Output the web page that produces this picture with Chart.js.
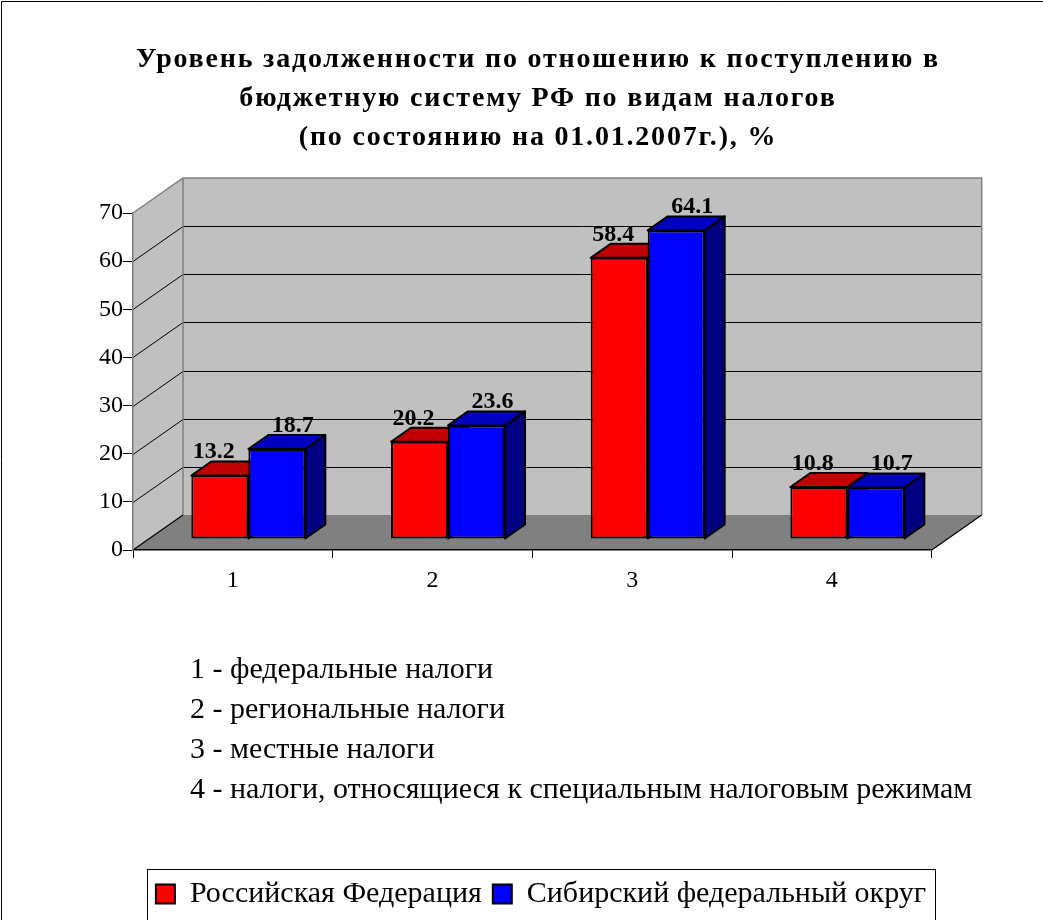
<!DOCTYPE html>
<html>
<head>
<meta charset="utf-8">
<script src="https://cdn.jsdelivr.net/npm/chart.js@4.4.1/dist/chart.umd.min.js"></script>
<style>
    html, body { margin: 0; padding: 0; background: #fff; }
    canvas { display: block; }
</style>
</head>
<body>
<canvas id="tax-debt-chart" width="1043" height="920"></canvas>
<script>
const categories = ['1', '2', '3', '4'];
const seriesNames = ['Российская Федерация', 'Сибирский федеральный округ'];
const russiaValues = [13.2, 20.2, 58.4, 10.8];
const siberiaValues = [18.7, 23.6, 64.1, 10.7];
const yTickValues = [0, 10, 20, 30, 40, 50, 60, 70];
const titleLines = [
    'Уровень задолженности по отношению к поступлению в',
    'бюджетную систему РФ по видам налогов',
    '(по состоянию на 01.01.2007г.), %'
];
const categoryNotes = [
    '1 - федеральные налоги',
    '2 - региональные налоги',
    '3 - местные налоги',
    '4 - налоги, относящиеся к специальным налоговым режимам'
];

const SERIF = '"Liberation Serif", "Times New Roman", serif';

// 3D look: back wall offset and bar depth
const WALL_DX = 50, WALL_DY = 35;
const BAR_SHIFT_X = 15.5, BAR_SHIFT_Y = 11;
const BAR_DX = 20, BAR_DY = 14;

const topColors = ['#c00000', '#0000c0'];
const sideColors = ['#800000', '#000080'];
const labelOffsets = [-6, 16];

function poly(ctx, pts, fill, stroke, lw) {
    ctx.beginPath();
    ctx.moveTo(pts[0][0], pts[0][1]);
    for (let i = 1; i < pts.length; i++) ctx.lineTo(pts[i][0], pts[i][1]);
    ctx.closePath();
    if (fill) { ctx.fillStyle = fill; ctx.fill(); }
    if (stroke) { ctx.strokeStyle = stroke; ctx.lineWidth = lw || 1; ctx.stroke(); }
}

// title (drawn here for the letter spacing), walls, floor and gridlines
const wallsPlugin = {
    id: 'walls3d',
    beforeDraw(chart) {
        const { ctx, chartArea: a, scales: { y } } = chart;
        ctx.save();
        ctx.font = 'bold 28px ' + SERIF;
        ctx.letterSpacing = '1.8px';
        ctx.fillStyle = '#000';
        ctx.textAlign = 'center';
        ctx.textBaseline = 'alphabetic';
        titleLines.forEach((line, i) => ctx.fillText(line, 538, 67 + i * 39));
        ctx.letterSpacing = '0px';

        // side wall
        poly(ctx, [[a.left, a.top], [a.left + WALL_DX, a.top - WALL_DY], [a.left + WALL_DX, a.bottom - WALL_DY], [a.left, a.bottom]], '#c0c0c0');
        // back wall
        poly(ctx, [[a.left + WALL_DX, a.top - WALL_DY], [a.right + WALL_DX, a.top - WALL_DY], [a.right + WALL_DX, a.bottom - WALL_DY], [a.left + WALL_DX, a.bottom - WALL_DY]], '#c0c0c0');
        // gridlines
        ctx.strokeStyle = '#000';
        ctx.lineWidth = 1;
        yTickValues.forEach(v => {
            if (v === y.min || v === y.max) return;
            const py = Math.round(y.getPixelForValue(v)) + 0.5;
            ctx.beginPath();
            ctx.moveTo(a.left, py);
            ctx.lineTo(a.left + WALL_DX, py - WALL_DY);
            ctx.lineTo(a.right + WALL_DX, py - WALL_DY);
            ctx.stroke();
        });
        // wall outlines
        ctx.strokeStyle = '#808080';
        ctx.lineWidth = 1.5;
        ctx.beginPath();
        ctx.moveTo(a.left, a.top);
        ctx.lineTo(a.left + WALL_DX, a.top - WALL_DY);
        ctx.lineTo(a.right + WALL_DX, a.top - WALL_DY);
        ctx.lineTo(a.right + WALL_DX, a.bottom - WALL_DY);
        ctx.moveTo(a.left + WALL_DX, a.top - WALL_DY);
        ctx.lineTo(a.left + WALL_DX, a.bottom - WALL_DY);
        ctx.stroke();
        // floor
        poly(ctx, [[a.left, a.bottom], [a.right, a.bottom], [a.right + WALL_DX, a.bottom - WALL_DY], [a.left + WALL_DX, a.bottom - WALL_DY]], '#808080');
        ctx.strokeStyle = '#000';
        ctx.lineWidth = 1.2;
        ctx.beginPath();
        ctx.moveTo(a.right, a.bottom);
        ctx.lineTo(a.right + WALL_DX, a.bottom - WALL_DY);
        ctx.moveTo(a.left, a.bottom);
        ctx.lineTo(a.left + WALL_DX, a.bottom - WALL_DY);
        ctx.stroke();
        ctx.restore();
    }
};

// bars are pushed into the middle of the depth; each cluster is painted
// left to right (side, top, then the library's own front face)
const barsPlugin = {
    id: 'bars3d',
    beforeDatasetDraw() {
        return false;
    },
    afterDatasetsDraw(chart) {
        const ctx = chart.ctx;
        const metas = chart.data.datasets.map((ds, i) => chart.getDatasetMeta(i));
        ctx.save();
        ctx.translate(BAR_SHIFT_X, -BAR_SHIFT_Y);
        ctx.lineJoin = 'round';
        categories.forEach((c, j) => {
            metas.forEach((meta, i) => {
                const bar = meta.data[j];
                const l = bar.x - bar.width / 2, r = bar.x + bar.width / 2;
                const t = bar.y, b = bar.base;
                poly(ctx, [[r, t], [r + BAR_DX, t - BAR_DY], [r + BAR_DX, b - BAR_DY], [r, b]], sideColors[i], '#000', 2);
                poly(ctx, [[l, t], [r, t], [r + BAR_DX, t - BAR_DY], [l + BAR_DX, t - BAR_DY]], topColors[i], '#000', 2);
                bar.draw(ctx);
            });
        });
        ctx.restore();
    }
};

const labelsPlugin = {
    id: 'valueLabels',
    afterDatasetsDraw(chart) {
        const ctx = chart.ctx;
        ctx.save();
        ctx.font = 'bold 24px ' + SERIF;
        ctx.fillStyle = '#000';
        ctx.textAlign = 'center';
        ctx.textBaseline = 'alphabetic';
        chart.data.datasets.forEach((ds, i) => {
            chart.getDatasetMeta(i).data.forEach((bar, j) => {
                const x = bar.x + BAR_SHIFT_X + labelOffsets[i];
                const yy = bar.y - BAR_SHIFT_Y - BAR_DY - 3;
                ctx.fillText(ds.data[j].toFixed(1), x, yy);
            });
        });
        ctx.restore();
    }
};

const notesPlugin = {
    id: 'notesAndFrame',
    afterDraw(chart) {
        const { ctx, chartArea: a, legend } = chart;
        ctx.save();
        ctx.font = '30px ' + SERIF;
        ctx.fillStyle = '#000';
        ctx.textAlign = 'left';
        ctx.textBaseline = 'alphabetic';
        categoryNotes.forEach((line, i) => {
            ctx.fillText(line, 190, a.bottom + 128 + i * 40);
        });
        // legend frame
        const hb = legend.legendHitBoxes;
        const first = hb[0], last = hb[hb.length - 1];
        ctx.strokeStyle = '#000';
        ctx.lineWidth = 1;
        const fx = Math.round(first.left - 9) + 0.5;
        const fr = Math.round(last.left + last.width + 9) + 0.5;
        ctx.strokeRect(fx, Math.round(legend.top) + 1.5, fr - fx, 60);
        // outer frame (top and left edges are inside the picture)
        ctx.beginPath();
        ctx.moveTo(1.5, chart.height);
        ctx.lineTo(1.5, 1.5);
        ctx.lineTo(chart.width, 1.5);
        ctx.stroke();
        ctx.restore();
    }
};

new Chart(document.getElementById('tax-debt-chart'), {
    type: 'bar',
    data: {
        labels: categories,
        datasets: [{
            label: seriesNames[0],
            data: russiaValues,
            backgroundColor: '#ff0000',
            borderColor: '#000',
            borderWidth: 2,
            borderSkipped: false
        }, {
            label: seriesNames[1],
            data: siberiaValues,
            backgroundColor: '#0000ff',
            borderColor: '#000',
            borderWidth: 2,
            borderSkipped: false
        }]
    },
    options: {
        responsive: false,
        animation: false,
        events: [],
        datasets: { bar: { categoryPercentage: 0.571, barPercentage: 1.0 } },
        layout: { padding: { left: 39, right: 0, top: 213, bottom: 1 } },
        scales: {
            x: {
                grid: { display: true, drawOnChartArea: false, drawTicks: true, tickLength: 8, color: '#000', offset: true },
                border: { display: true, color: '#000', width: 1.5 },
                ticks: { color: '#000', font: { family: SERIF, size: 24 }, padding: 8 },
                afterFit: s => { s.height = 318; }
            },
            y: {
                min: 0,
                max: 70,
                grid: { display: true, drawOnChartArea: false, drawTicks: true, tickLength: 10, color: '#000' },
                border: { display: true, color: '#808080', width: 1.5 },
                ticks: { stepSize: 10, color: '#000', font: { family: SERIF, size: 24 }, padding: 0 },
                afterFit: s => { s.width = 94; }
            },
            yRight: {
                position: 'right',
                display: true,
                min: 0,
                max: 70,
                grid: { display: false },
                border: { display: false },
                ticks: { display: false },
                afterFit: s => { s.width = 111.3; }
            }
        },
        plugins: {
            title: { display: false },
            legend: {
                position: 'bottom',
                labels: {
                    color: '#000',
                    font: { family: SERIF, size: 30 },
                    boxWidth: 19,
                    boxHeight: 19,
                    padding: 11
                }
            },
            tooltip: { enabled: false }
        }
    },
    plugins: [wallsPlugin, barsPlugin, labelsPlugin, notesPlugin]
});
</script>
</body>
</html>
